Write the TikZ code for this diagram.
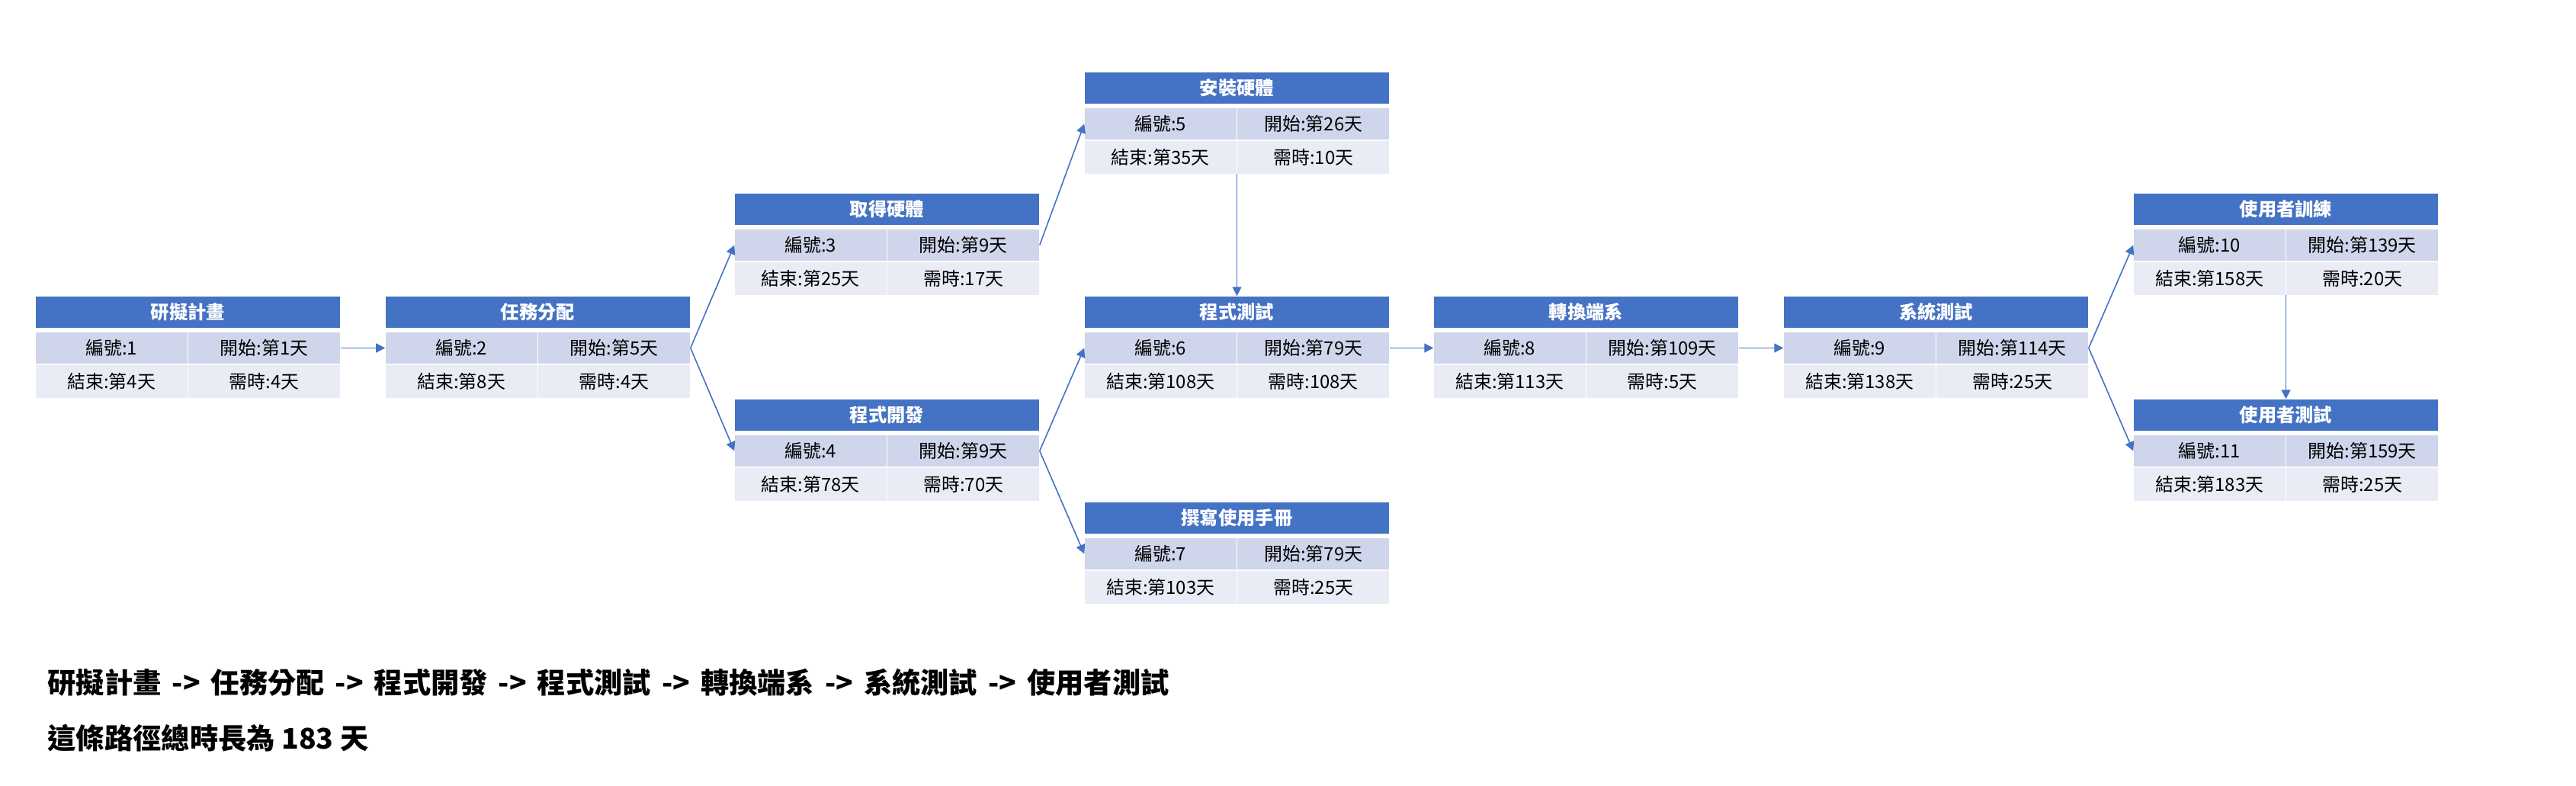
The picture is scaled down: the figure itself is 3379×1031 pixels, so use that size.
\documentclass[tikz,border=0pt]{standalone}
\usepackage{fontspec}
\usepackage{xcolor}
\usetikzlibrary{arrows.meta}
\newfontfamily\tc{Noto Sans CJK TC}
\definecolor{hdrblue}{HTML}{4472C4}
\definecolor{rowa}{HTML}{CFD5EA}
\definecolor{rowb}{HTML}{E9EBF5}

% one task box: name, left, top, title, id, start, end, duration
\newcommand{\tasknode}[8]{%
  \node[hdr] (#1) at (#2+199.5,#3+20.5) {#4};
  \node[cella] (#1a) at (#2+99.25,#3+67.5) {編號:#5};
  \node[cella] (#1b) at (#2+299.75,#3+67.5) {開始:第#6天};
  \node[cellb] (#1c) at (#2+99.25,#3+111.5) {結束:第#7天};
  \node[cellb] (#1d) at (#2+299.75,#3+111.5) {需時:#8天};
  \coordinate (#1s) at (#2+199.5,#3+133);
}
% arrow in the summary line
\newcommand{\thento}{\hspace{0.14cm}->\hspace{0.14cm}}

\begin{document}
\begin{tikzpicture}[x=0.01cm,y=-0.01cm,
    >={Triangle[length=0.12cm,width=0.12cm]},
    hdr/.style={fill=hdrblue,text=white,inner sep=0pt,minimum width=3.99cm,minimum height=0.41cm,
      font=\tc\bfseries\fontsize{6.9pt}{8pt}\selectfont},
    cella/.style={fill=rowa,text=black,inner sep=0pt,minimum width=1.985cm,minimum height=0.41cm,
      font=\tc\fontsize{6.8pt}{8pt}\selectfont},
    cellb/.style={cella,fill=rowb,minimum height=0.43cm},
    link/.style={->,draw=hdrblue,line width=0.45pt},
    summary/.style={anchor=west,inner sep=0pt,font=\tc\bfseries\fontsize{10.6pt}{12pt}\selectfont}]
        \useasboundingbox (0,0) rectangle (3379,1031);

        \tasknode{t1}{47}{389}{研擬計畫}{1}{1}{4}{4}
        \tasknode{t2}{506}{389}{任務分配}{2}{5}{8}{4}
        \tasknode{t3}{964}{254}{取得硬體}{3}{9}{25}{17}
        \tasknode{t4}{964}{524}{程式開發}{4}{9}{78}{70}
        \tasknode{t5}{1423}{95}{安裝硬體}{5}{26}{35}{10}
        \tasknode{t6}{1423}{389}{程式測試}{6}{79}{108}{108}
        \tasknode{t7}{1423}{659}{撰寫使用手冊}{7}{79}{103}{25}
        \tasknode{t8}{1881}{389}{轉換端系}{8}{109}{113}{5}
        \tasknode{t9}{2340}{389}{系統測試}{9}{114}{138}{25}
        \tasknode{t10}{2799}{254}{使用者訓練}{10}{139}{158}{20}
        \tasknode{t11}{2799}{524}{使用者測試}{11}{159}{183}{25}

        \draw[link] (t1b.east)--(t2a.west);
        \draw[link] (t2b.east)--(t3a.west);
        \draw[link] (t2b.east)--(t4a.west);
        \draw[link] (t3b.east)--(t5a.west);
        \draw[link] (t5s)--(t6.north);
        \draw[link] (t4b.east)--(t6a.west);
        \draw[link] (t4b.east)--(t7a.west);
        \draw[link] (t6b.east)--(t8a.west);
        \draw[link] (t8b.east)--(t9a.west);
        \draw[link] (t9b.east)--(t10a.west);
        \draw[link] (t9b.east)--(t11a.west);
        \draw[link] (t10s)--(t11.north);

        \node[summary] (path) at (62,895) {研擬計畫\thento 任務分配\thento 程式開發\thento 程式測試\thento 轉換端系\thento 系統測試\thento 使用者測試};
        \node[summary] (total) at (62,968) {這條路徑總時長為 183 天};
      \end{tikzpicture}
\end{document}
